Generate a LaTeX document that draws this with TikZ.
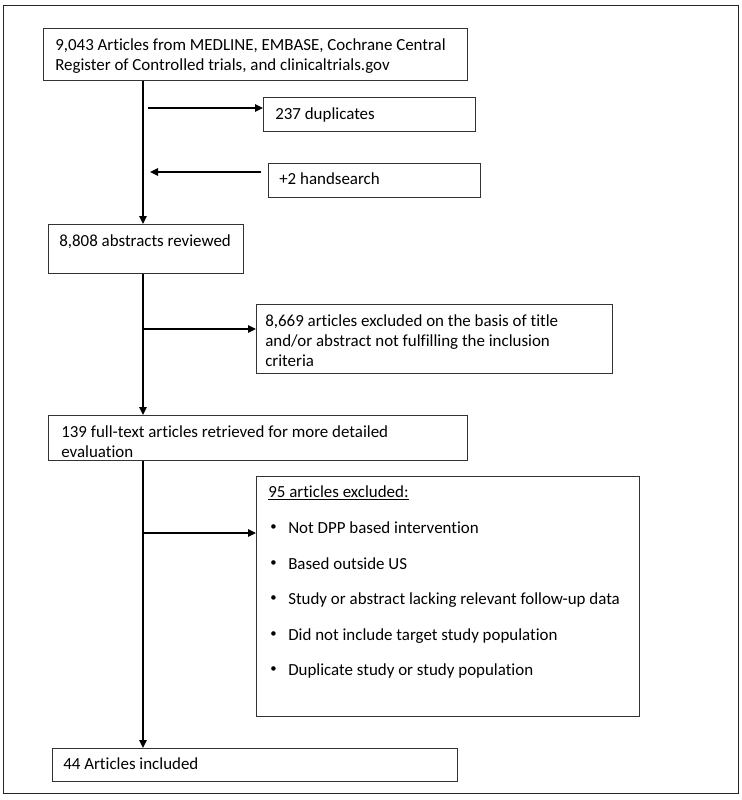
\documentclass[tikz,border=0pt]{standalone}
\usepackage{fontspec}
\setmainfont[RawFeature=-liga]{Carlito}
\usetikzlibrary{arrows.meta}
\begin{document}
\begin{tikzpicture}[x=0.75pt,y=-0.75pt,
  box/.style={draw=black!80,line width=0.8pt,rectangle,inner sep=0pt,anchor=north west},
  txt/.style={anchor=base west,inner sep=0pt,font=\fontsize{12.7pt}{16pt}\selectfont},
  flow/.style={line width=1.2pt,-{Triangle[length=6pt,width=5.5pt]}}]
\newcommand{\bx}[5]{\node[box,minimum width={(#4-#2)*0.75pt},minimum height={(#5-#3)*0.75pt}] (#1) at (#2,#3) {};}
\newcommand{\smbul}{\raisebox{0.12em}{\scalebox{0.75}{\textbullet}}}
\useasboundingbox (0,0) rectangle (742,800);
\node[draw=black!85,line width=0.8pt,inner sep=0pt,anchor=north west,minimum width={735*0.75pt},minimum height={788*0.75pt}] (frame) at (3,5) {};
\coordinate (spine) at (143,0);
% boxes
\bx{b1}{43}{28}{467}{80}
\bx{dup}{263}{97}{475}{131}
\bx{hand}{268}{163}{480}{197}
\bx{b2}{48}{224}{243}{273}
\bx{exc1}{256}{304}{612}{373}
\bx{b3}{48}{415}{467}{460}
\bx{exc2}{256}{476}{639}{716}
\bx{b5}{52}{748}{457}{781}
% texts
\node[txt] (t1a) at (55,50) {9,043 Articles from MEDLINE, EMBASE, Cochrane Central};
\node[txt] (t1b) at (55,70) {Register of Controlled trials, and clinicaltrials.gov};
\node[txt] (tdup) at (275,119) {237 duplicates};
\node[txt] (thand) at (279,184) {+2 handsearch};
\node[txt] (t2) at (59,246) {8,808 abstracts reviewed};
\node[txt] (te1a) at (265,326) {8,669 articles excluded on the basis of title};
\node[txt] (te1b) at (265,346) {and/or abstract not fulfilling the inclusion};
\node[txt] (te1c) at (265,366) {criteria};
\node[txt] (t3a) at (61,437) {139 full-text articles retrieved for more detailed};
\node[txt] (t3b) at (61,457) {evaluation};
\node[txt] (te2) at (268,497) {\underline{95 articles excluded:}};
\node[txt] (bu1) at (270,533) {\smbul}; \node[txt] (tb1) at (288,533) {Not DPP based intervention};
\node[txt] (bu2) at (270,569) {\smbul}; \node[txt] (tb2) at (288,569) {Based outside US};
\node[txt] (bu3) at (270,604) {\smbul}; \node[txt] (tb3) at (288,604) {Study or abstract lacking relevant follow-up data};
\node[txt] (bu4) at (270,640) {\smbul}; \node[txt] (tb4) at (288,640) {Did not include target study population};
\node[txt] (bu5) at (270,675) {\smbul}; \node[txt] (tb5) at (288,675) {Duplicate study or study population};
\node[txt] (t5) at (63,769) {44 Articles included};
% connectors
\draw[flow] (b1.south -| spine) -- (b2.north -| spine);
\coordinate (d0) at (148,108);
\draw[flow] (d0) -- (d0 -| dup.west);
\coordinate (h0) at (261,172);
\coordinate (h1) at (150,172);
\draw[flow] (h0) -- (h1);
\draw[flow] (b2.south -| spine) -- (b3.north -| spine);
\coordinate (e1) at (143,329);
\draw[flow] (e1) -- (e1 -| exc1.west);
\draw[flow] (b3.south -| spine) -- (b5.north -| spine);
\coordinate (e2) at (143,533);
\draw[flow] (e2) -- (e2 -| exc2.west);
\end{tikzpicture}
\end{document}
